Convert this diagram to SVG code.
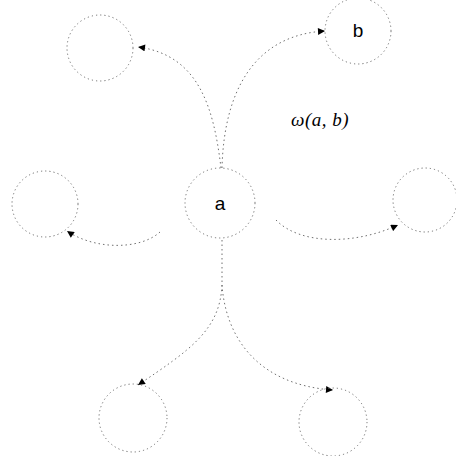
<svg xmlns="http://www.w3.org/2000/svg" width="456" height="456" viewBox="0 0 456 456">
<style>
.node circle{fill:none;stroke:#6e6e6e;stroke-width:1;stroke-dasharray:1.2 3}
.node text{font-family:"Liberation Sans",Arial,sans-serif;font-size:19px;fill:#000;text-anchor:middle}
.edge{fill:none;stroke:#707070;stroke-width:1;stroke-dasharray:1.5 3}
.lbl{font-family:"Liberation Serif","Times New Roman",serif;font-style:italic;font-size:19px;fill:#000;letter-spacing:0.5px}
</style>
<defs>
<marker id="arr" viewBox="0 0 10 10" refX="10" refY="5" markerWidth="10" markerHeight="7" markerUnits="userSpaceOnUse" orient="auto">
<path d="M0,0 L10,5 L0,10 Z" fill="#000"/>
</marker>
</defs>
<rect width="456" height="456" fill="#fff"/>
<g id="connectors">
<path class="edge" d="M221,168 C214,110 200,55 138,47" marker-end="url(#arr)"/>
<path class="edge" d="M222,168 C224,90 255,35 325,31" marker-end="url(#arr)"/>
<path class="edge" d="M160,232 C140,250 95,250 67,231" marker-end="url(#arr)"/>
<path class="edge" d="M276,220 C300,245 355,245 398,225" marker-end="url(#arr)"/>
<path class="edge" d="M222,240 L222,285 C220,330 190,350 138,385" marker-end="url(#arr)"/>
<path class="edge" d="M222,285 C226,340 260,385 333,390" marker-end="url(#arr)"/>
</g>
<g id="node-a" class="node"><circle cx="220" cy="203" r="35"/><text x="220" y="210">a</text></g>
<g id="node-b" class="node"><circle cx="358" cy="31" r="33"/><text x="358" y="37">b</text></g>
<g id="node-tl" class="node"><circle cx="100" cy="48" r="33"/></g>
<g id="node-l" class="node"><circle cx="45" cy="204" r="33"/></g>
<g id="node-r" class="node"><circle cx="425" cy="200" r="32"/></g>
<g id="node-bl" class="node"><circle cx="133" cy="418" r="34"/></g>
<g id="node-br" class="node"><circle cx="333" cy="422" r="34"/></g>
<text class="lbl" x="291" y="126">ω(a, b)</text>
</svg>
